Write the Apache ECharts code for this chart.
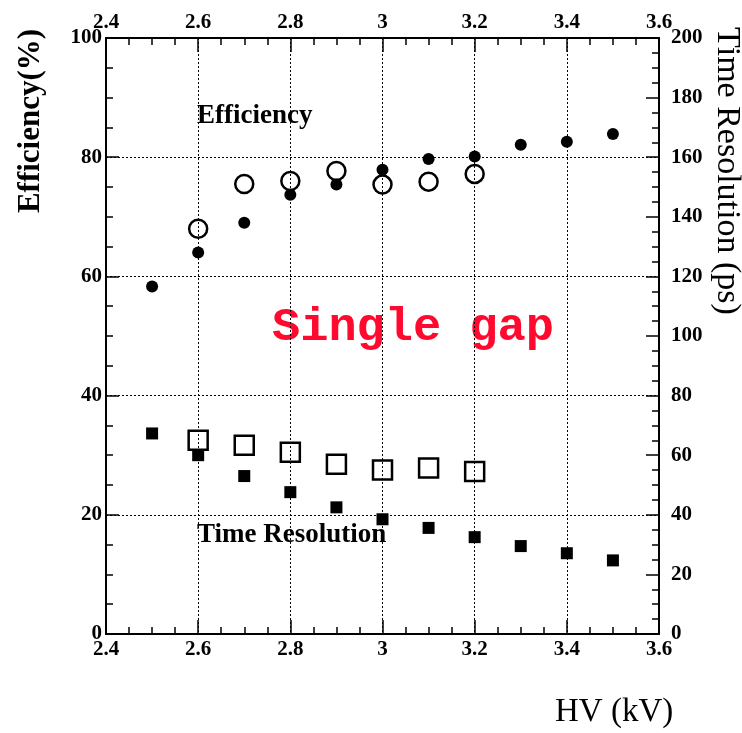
<!DOCTYPE html>
<html>
<head>
<meta charset="utf-8">
<script src="https://cdn.jsdelivr.net/npm/echarts@6/dist/echarts.min.js"></script>
<style>
  html, body { margin: 0; padding: 0; background: #fff; }
  #main { width: 742px; height: 733px; }
</style>
</head>
<body>
<div id="main"></div>
<script>
// HV in kV
var hvAll = [2.5, 2.6, 2.7, 2.8, 2.9, 3.0, 3.1, 3.2, 3.3, 3.4, 3.5];
var hvGap = [2.6, 2.7, 2.8, 2.9, 3.0, 3.1, 3.2];
// efficiency (%) - left axis
var effFilled = [58.3, 64.0, 69.0, 73.7, 75.4, 77.9, 79.7, 80.1, 82.1, 82.6, 83.9];
var effOpen = [68.0, 75.5, 76.0, 77.7, 75.4, 75.9, 77.2];
// time resolution (ps) - right axis
var trFilled = [67.3, 60.0, 53.0, 47.6, 42.5, 38.5, 35.6, 32.5, 29.5, 27.1, 24.7];
var trOpen = [65.0, 63.3, 61.0, 57.0, 55.0, 55.7, 54.5];
var xTicks = ['2.4', '2.6', '2.8', '3', '3.2', '3.4', '3.6'];

function pairs(xs, ys) {
    var out = [];
    for (var i = 0; i < xs.length; i++) out.push([xs[i], ys[i]]);
    return out;
}

var font = 'Liberation Serif';
var labelStyle = { color: '#000', fontFamily: font, fontWeight: 'bold', fontSize: 21 };
var gridDots = { show: true, lineStyle: { color: '#000', type: [2, 2], width: 1 } };

var chart = echarts.init(document.getElementById('main'));
function xAxisAt(pos, grid) {
    return {
        type: 'value', min: 2.4, max: 3.6, interval: 0.2, position: pos,
        axisLine: { show: true, onZero: false, lineStyle: { color: '#000', width: 2 } },
        axisTick: { show: true, inside: true, length: 14, lineStyle: { color: '#000', width: 1.5 } },
        minorTick: { show: true, splitNumber: 4, length: 7, lineStyle: { color: '#000', width: 1.5 } },
        axisLabel: Object.assign({ margin: 5, formatter: function (v) { return xTicks[Math.round((v - 2.4) / 0.2)]; } }, labelStyle),
        splitLine: grid ? gridDots : { show: false }
    };
}
function yAxisAt(pos, max, margin, grid) {
    return {
        type: 'value', min: 0, max: max, interval: 20, position: pos,
        axisLine: { show: true, onZero: false, lineStyle: { color: '#000', width: 2 } },
        axisTick: { show: true, inside: true, length: 13, lineStyle: { color: '#000', width: 1.5 } },
        minorTick: { show: true, splitNumber: 4, length: 7, lineStyle: { color: '#000', width: 1.5 } },
        axisLabel: Object.assign({ margin: margin }, labelStyle),
        splitLine: grid ? gridDots : { show: false }
    };
}
chart.setOption({
    animation: false,
    grid: { left: 106, right: 83, top: 38, bottom: 99, containLabel: false },
    xAxis: [xAxisAt('bottom', true), xAxisAt('top', false)],
    yAxis: [yAxisAt('left', 100, 4, true), yAxisAt('right', 200, 12, false)],
    series: [
        {
            type: 'scatter', yAxisIndex: 0, symbol: 'circle', symbolSize: 12,
            itemStyle: { color: '#000', opacity: 1 }, data: pairs(hvAll, effFilled)
        },
        {
            type: 'scatter', yAxisIndex: 0, symbol: 'circle', symbolSize: 18,
            itemStyle: { color: 'rgba(255,255,255,0)', borderColor: '#000', borderWidth: 2.5, opacity: 1 },
            data: pairs(hvGap, effOpen)
        },
        {
            type: 'scatter', yAxisIndex: 1, symbol: 'rect', symbolSize: 12,
            itemStyle: { color: '#000', opacity: 1 }, data: pairs(hvAll, trFilled)
        },
        {
            type: 'scatter', yAxisIndex: 1, symbol: 'rect', symbolSize: 19,
            itemStyle: { color: 'rgba(255,255,255,0)', borderColor: '#000', borderWidth: 2.5, opacity: 1 },
            data: pairs(hvGap, trOpen)
        }
    ],
    graphic: [
        { type: 'text', left: 197, top: 103, style: { text: 'Efficiency', font: 'bold 27px "Liberation Serif"', fill: '#000' } },
        { type: 'text', left: 197, top: 522, style: { text: 'Time Resolution', font: 'bold 27px "Liberation Serif"', fill: '#000' } },
        {
            type: 'text', x: 413, y: 328,
            style: {
                text: 'Single gap', font: 'bold 47px "Liberation Mono"', fill: '#ff0a2e',
                align: 'center', verticalAlign: 'middle',
                shadowColor: 'rgba(120,120,120,0.6)', shadowOffsetX: 3, shadowOffsetY: 3, shadowBlur: 2
            }
        },
        { type: 'text', left: 555, top: 696, style: { text: 'HV (kV)', font: '33px "Liberation Serif"', fill: '#000' } },
        {
            type: 'text', x: 31, y: 121, rotation: Math.PI / 2,
            style: { text: 'Efficiency(%)', font: 'bold 31px "Liberation Serif"', fill: '#000', align: 'center', verticalAlign: 'middle' }
        },
        {
            type: 'text', x: 727, y: 171, rotation: -Math.PI / 2,
            style: { text: 'Time Resolution (ps)', font: '34px "Liberation Serif"', fill: '#000', align: 'center', verticalAlign: 'middle' }
        }
    ]
});
</script>
</body>
</html>
